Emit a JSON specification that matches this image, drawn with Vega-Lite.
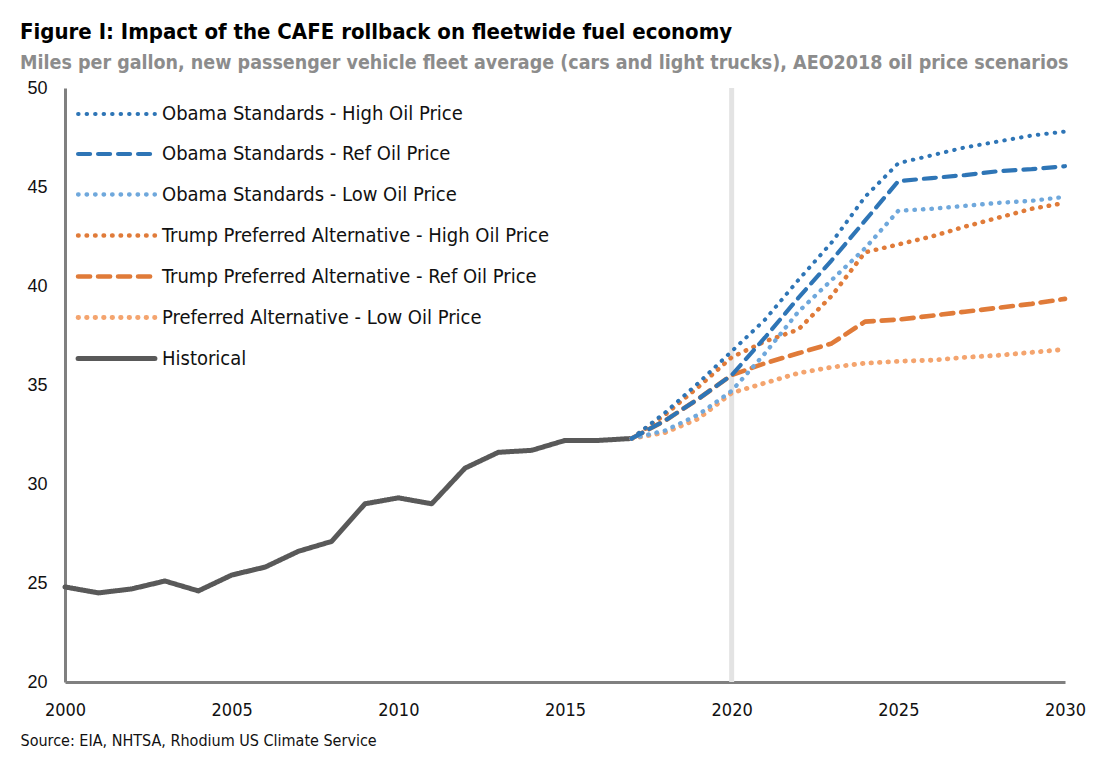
{
  "$schema": "https://vega.github.io/schema/vega-lite/v6.json",
  "width": 1000,
  "height": 594,
  "autosize": "none",
  "padding": {"left": 65, "top": 88, "right": 45, "bottom": 92},
  "background": "white",
  "title": {
    "text": "Figure I: Impact of the CAFE rollback on fleetwide fuel economy",
    "subtitle": "Miles per gallon, new passenger vehicle fleet average (cars and light trucks), AEO2018 oil price scenarios",
    "anchor": "start",
    "frame": "group",
    "dx": -45,
    "offset": 6,
    "font": "DejaVu Sans Condensed, sans-serif",
    "fontSize": 22,
    "fontWeight": "bold",
    "color": "#000000",
    "subtitleFont": "DejaVu Sans Condensed, sans-serif",
    "subtitleFontSize": 19.5,
    "subtitleFontWeight": "bold",
    "subtitleColor": "#8c8c8c",
    "subtitlePadding": 10
  },
  "config": {
    "view": {"stroke": null},
    "font": "DejaVu Sans Condensed, sans-serif"
  },
  "datasets": {
    "series": [
      {"s": "Historical", "year": 2000, "mpg": 24.8},
      {"s": "Historical", "year": 2001, "mpg": 24.5},
      {"s": "Historical", "year": 2002, "mpg": 24.7},
      {"s": "Historical", "year": 2003, "mpg": 25.1},
      {"s": "Historical", "year": 2004, "mpg": 24.6},
      {"s": "Historical", "year": 2005, "mpg": 25.4},
      {"s": "Historical", "year": 2006, "mpg": 25.8},
      {"s": "Historical", "year": 2007, "mpg": 26.6},
      {"s": "Historical", "year": 2008, "mpg": 27.1},
      {"s": "Historical", "year": 2009, "mpg": 29.0},
      {"s": "Historical", "year": 2010, "mpg": 29.3},
      {"s": "Historical", "year": 2011, "mpg": 29.0},
      {"s": "Historical", "year": 2012, "mpg": 30.8},
      {"s": "Historical", "year": 2013, "mpg": 31.6},
      {"s": "Historical", "year": 2014, "mpg": 31.7},
      {"s": "Historical", "year": 2015, "mpg": 32.2},
      {"s": "Historical", "year": 2016, "mpg": 32.2},
      {"s": "Historical", "year": 2017, "mpg": 32.3},

      {"s": "Preferred Alternative - Low Oil Price", "year": 2017, "mpg": 32.3},
      {"s": "Preferred Alternative - Low Oil Price", "year": 2018, "mpg": 32.6},
      {"s": "Preferred Alternative - Low Oil Price", "year": 2019, "mpg": 33.3},
      {"s": "Preferred Alternative - Low Oil Price", "year": 2020, "mpg": 34.6},
      {"s": "Preferred Alternative - Low Oil Price", "year": 2021, "mpg": 35.1},
      {"s": "Preferred Alternative - Low Oil Price", "year": 2022, "mpg": 35.6},
      {"s": "Preferred Alternative - Low Oil Price", "year": 2023, "mpg": 35.9},
      {"s": "Preferred Alternative - Low Oil Price", "year": 2024, "mpg": 36.1},
      {"s": "Preferred Alternative - Low Oil Price", "year": 2025, "mpg": 36.2},
      {"s": "Preferred Alternative - Low Oil Price", "year": 2026, "mpg": 36.25},
      {"s": "Preferred Alternative - Low Oil Price", "year": 2027, "mpg": 36.4},
      {"s": "Preferred Alternative - Low Oil Price", "year": 2028, "mpg": 36.5},
      {"s": "Preferred Alternative - Low Oil Price", "year": 2029, "mpg": 36.65},
      {"s": "Preferred Alternative - Low Oil Price", "year": 2030, "mpg": 36.8},

      {"s": "Trump Preferred Alternative - Ref Oil Price", "year": 2017, "mpg": 32.3},
      {"s": "Trump Preferred Alternative - Ref Oil Price", "year": 2018, "mpg": 33.2},
      {"s": "Trump Preferred Alternative - Ref Oil Price", "year": 2019, "mpg": 34.3},
      {"s": "Trump Preferred Alternative - Ref Oil Price", "year": 2020, "mpg": 35.5},
      {"s": "Trump Preferred Alternative - Ref Oil Price", "year": 2021, "mpg": 36.1},
      {"s": "Trump Preferred Alternative - Ref Oil Price", "year": 2022, "mpg": 36.6},
      {"s": "Trump Preferred Alternative - Ref Oil Price", "year": 2023, "mpg": 37.1},
      {"s": "Trump Preferred Alternative - Ref Oil Price", "year": 2024, "mpg": 38.2},
      {"s": "Trump Preferred Alternative - Ref Oil Price", "year": 2025, "mpg": 38.3},
      {"s": "Trump Preferred Alternative - Ref Oil Price", "year": 2026, "mpg": 38.5},
      {"s": "Trump Preferred Alternative - Ref Oil Price", "year": 2027, "mpg": 38.7},
      {"s": "Trump Preferred Alternative - Ref Oil Price", "year": 2028, "mpg": 38.9},
      {"s": "Trump Preferred Alternative - Ref Oil Price", "year": 2029, "mpg": 39.1},
      {"s": "Trump Preferred Alternative - Ref Oil Price", "year": 2030, "mpg": 39.35},

      {"s": "Trump Preferred Alternative - High Oil Price", "year": 2017, "mpg": 32.3},
      {"s": "Trump Preferred Alternative - High Oil Price", "year": 2018, "mpg": 33.5},
      {"s": "Trump Preferred Alternative - High Oil Price", "year": 2019, "mpg": 34.9},
      {"s": "Trump Preferred Alternative - High Oil Price", "year": 2020, "mpg": 36.4},
      {"s": "Trump Preferred Alternative - High Oil Price", "year": 2021, "mpg": 37.2},
      {"s": "Trump Preferred Alternative - High Oil Price", "year": 2022, "mpg": 37.8},
      {"s": "Trump Preferred Alternative - High Oil Price", "year": 2023, "mpg": 39.5},
      {"s": "Trump Preferred Alternative - High Oil Price", "year": 2024, "mpg": 41.7},
      {"s": "Trump Preferred Alternative - High Oil Price", "year": 2025, "mpg": 42.1},
      {"s": "Trump Preferred Alternative - High Oil Price", "year": 2026, "mpg": 42.5},
      {"s": "Trump Preferred Alternative - High Oil Price", "year": 2027, "mpg": 43.0},
      {"s": "Trump Preferred Alternative - High Oil Price", "year": 2028, "mpg": 43.45},
      {"s": "Trump Preferred Alternative - High Oil Price", "year": 2029, "mpg": 43.9},
      {"s": "Trump Preferred Alternative - High Oil Price", "year": 2030, "mpg": 44.2},

      {"s": "Obama Standards - Low Oil Price", "year": 2017, "mpg": 32.3},
      {"s": "Obama Standards - Low Oil Price", "year": 2018, "mpg": 32.7},
      {"s": "Obama Standards - Low Oil Price", "year": 2019, "mpg": 33.5},
      {"s": "Obama Standards - Low Oil Price", "year": 2020, "mpg": 34.7},
      {"s": "Obama Standards - Low Oil Price", "year": 2021, "mpg": 36.6},
      {"s": "Obama Standards - Low Oil Price", "year": 2022, "mpg": 38.7},
      {"s": "Obama Standards - Low Oil Price", "year": 2023, "mpg": 40.3},
      {"s": "Obama Standards - Low Oil Price", "year": 2024, "mpg": 41.9},
      {"s": "Obama Standards - Low Oil Price", "year": 2025, "mpg": 43.8},
      {"s": "Obama Standards - Low Oil Price", "year": 2026, "mpg": 43.9},
      {"s": "Obama Standards - Low Oil Price", "year": 2027, "mpg": 44.05},
      {"s": "Obama Standards - Low Oil Price", "year": 2028, "mpg": 44.2},
      {"s": "Obama Standards - Low Oil Price", "year": 2029, "mpg": 44.3},
      {"s": "Obama Standards - Low Oil Price", "year": 2030, "mpg": 44.5},

      {"s": "Obama Standards - Ref Oil Price", "year": 2017, "mpg": 32.3},
      {"s": "Obama Standards - Ref Oil Price", "year": 2018, "mpg": 33.2},
      {"s": "Obama Standards - Ref Oil Price", "year": 2019, "mpg": 34.3},
      {"s": "Obama Standards - Ref Oil Price", "year": 2020, "mpg": 35.5},
      {"s": "Obama Standards - Ref Oil Price", "year": 2021, "mpg": 37.4},
      {"s": "Obama Standards - Ref Oil Price", "year": 2022, "mpg": 39.4},
      {"s": "Obama Standards - Ref Oil Price", "year": 2023, "mpg": 41.3},
      {"s": "Obama Standards - Ref Oil Price", "year": 2024, "mpg": 43.3},
      {"s": "Obama Standards - Ref Oil Price", "year": 2025, "mpg": 45.3},
      {"s": "Obama Standards - Ref Oil Price", "year": 2026, "mpg": 45.45},
      {"s": "Obama Standards - Ref Oil Price", "year": 2027, "mpg": 45.6},
      {"s": "Obama Standards - Ref Oil Price", "year": 2028, "mpg": 45.8},
      {"s": "Obama Standards - Ref Oil Price", "year": 2029, "mpg": 45.9},
      {"s": "Obama Standards - Ref Oil Price", "year": 2030, "mpg": 46.05},

      {"s": "Obama Standards - High Oil Price", "year": 2017, "mpg": 32.3},
      {"s": "Obama Standards - High Oil Price", "year": 2018, "mpg": 33.6},
      {"s": "Obama Standards - High Oil Price", "year": 2019, "mpg": 35.1},
      {"s": "Obama Standards - High Oil Price", "year": 2020, "mpg": 36.7},
      {"s": "Obama Standards - High Oil Price", "year": 2021, "mpg": 38.3},
      {"s": "Obama Standards - High Oil Price", "year": 2022, "mpg": 40.3},
      {"s": "Obama Standards - High Oil Price", "year": 2023, "mpg": 42.2},
      {"s": "Obama Standards - High Oil Price", "year": 2024, "mpg": 44.5},
      {"s": "Obama Standards - High Oil Price", "year": 2025, "mpg": 46.2},
      {"s": "Obama Standards - High Oil Price", "year": 2026, "mpg": 46.6},
      {"s": "Obama Standards - High Oil Price", "year": 2027, "mpg": 47.0},
      {"s": "Obama Standards - High Oil Price", "year": 2028, "mpg": 47.3},
      {"s": "Obama Standards - High Oil Price", "year": 2029, "mpg": 47.6},
      {"s": "Obama Standards - High Oil Price", "year": 2030, "mpg": 47.8}
    ],
    "marker": [{"year": 2020}]
  },
  "layer": [
    {
      "data": {"name": "marker"},
      "mark": {"type": "rule", "color": "#e3e3e3", "strokeWidth": 5},
      "encoding": {
        "x": {"field": "year", "type": "quantitative", "scale": {"domain": [2000, 2030], "nice": false, "zero": false}}
      }
    },
    {
      "data": {"name": "series"},
      "mark": {"type": "line", "strokeCap": "round", "strokeJoin": "round"},
      "encoding": {
        "x": {
          "field": "year",
          "type": "quantitative",
          "scale": {"domain": [2000, 2030], "nice": false, "zero": false},
          "axis": {
            "values": [2000, 2005, 2010, 2015, 2020, 2025, 2030],
            "format": "d",
            "grid": false,
            "ticks": false,
            "domainColor": "#808080",
            "domainWidth": 3,
            "labelFont": "DejaVu Sans Condensed, sans-serif",
            "labelFontSize": 18,
            "labelColor": "#111111",
            "labelPadding": 19,
            "labelFlush": false,
            "title": "Source: EIA, NHTSA, Rhodium US Climate Service",
            "titleFont": "DejaVu Sans Condensed, sans-serif",
            "titleFontSize": 16,
            "titleFontWeight": "normal",
            "titleColor": "#111111",
            "titleAnchor": "start",
            "titleAlign": "left",
            "titleX": -45,
            "titleY": 58,
            "titleBaseline": "middle"
          }
        },
        "y": {
          "field": "mpg",
          "type": "quantitative",
          "scale": {"domain": [20, 50], "nice": false, "zero": false},
          "axis": {
            "values": [20, 25, 30, 35, 40, 45, 50],
            "grid": false,
            "ticks": false,
            "domainColor": "#808080",
            "domainWidth": 3,
            "labelFont": "Liberation Sans, Arial, sans-serif",
            "labelFontSize": 18,
            "labelColor": "#111111",
            "labelPadding": 18,
            "labelFlush": false,
            "title": null
          }
        },
        "color": {
          "field": "s",
          "type": "nominal",
          "scale": {
            "domain": [
              "Obama Standards - High Oil Price",
              "Obama Standards - Ref Oil Price",
              "Obama Standards - Low Oil Price",
              "Trump Preferred Alternative - High Oil Price",
              "Trump Preferred Alternative - Ref Oil Price",
              "Preferred Alternative - Low Oil Price",
              "Historical"
            ],
            "range": ["#2e75b6", "#2e75b6", "#6fa8dc", "#e07b39", "#e07b39", "#f4a46e", "#595959"]
          },
          "legend": {
            "title": null,
            "orient": "none",
            "legendX": 21,
            "legendY": -4,
            "symbolType": "M-1.38,0H1.38",
            "symbolSize": 3100,
            "labelFont": "DejaVu Sans Condensed, sans-serif",
            "labelFontSize": 20,
            "labelColor": "#111111",
            "labelOffset": 15,
            "rowPadding": 0,
            "labelLimit": 500,
            "encode": {
              "symbols": {"update": {"strokeCap": {"value": "round"}}}
            }
          }
        },
        "strokeDash": {
          "field": "s",
          "type": "nominal",
          "scale": {
            "domain": [
              "Obama Standards - High Oil Price",
              "Obama Standards - Ref Oil Price",
              "Obama Standards - Low Oil Price",
              "Trump Preferred Alternative - High Oil Price",
              "Trump Preferred Alternative - Ref Oil Price",
              "Preferred Alternative - Low Oil Price",
              "Historical"
            ],
            "range": [[0.5, 8], [12, 8], [0.5, 8], [0.5, 8], [12, 8], [0.5, 8], [1, 0]]
          },
          "legend": null
        },
        "strokeWidth": {
          "field": "s",
          "type": "nominal",
          "scale": {
            "domain": [
              "Obama Standards - High Oil Price",
              "Obama Standards - Ref Oil Price",
              "Obama Standards - Low Oil Price",
              "Trump Preferred Alternative - High Oil Price",
              "Trump Preferred Alternative - Ref Oil Price",
              "Preferred Alternative - Low Oil Price",
              "Historical"
            ],
            "range": [4, 5, 4, 4, 5, 4, 4]
          },
          "legend": null
        },
        "order": {"field": "year", "type": "quantitative"}
      }
    }
  ]
}
